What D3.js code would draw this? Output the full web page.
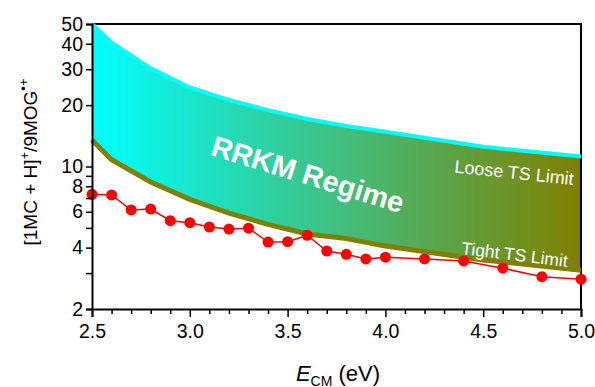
<!DOCTYPE html>
<html>
<head>
<meta charset="utf-8">
<script src="https://cdn.jsdelivr.net/npm/d3@7"></script>
<style>
  html, body { margin: 0; padding: 0; background: #fff; }
  svg { display: block; font-family: "Liberation Sans", Arial, sans-serif; }
</style>
</head>
<body>
<svg id="chart" width="595" height="387"></svg>
<script>
// boundary curves (RRKM limits)
const limitE     = [2.5, 2.6, 2.8, 3.0, 3.2, 3.4, 3.6, 3.8, 4.0, 4.5, 5.0];
const looseLimit = [50, 40.5, 30.3, 24.4, 21.2, 18.9, 17.1, 15.8, 14.8, 12.5, 11.2];
const tightLimit = [13.5, 10.8, 8.4, 6.9, 5.9, 5.2, 4.67, 4.43, 4.07, 3.48, 3.1];

// measured ratio
const expE     = [2.5, 2.6, 2.7, 2.8, 2.9, 3.0, 3.1, 3.2, 3.3, 3.4, 3.5, 3.6, 3.7, 3.8, 3.9, 4.0, 4.2, 4.4, 4.6, 4.8, 5.0];
const expRatio = [7.3, 7.25, 6.12, 6.18, 5.42, 5.30, 5.05, 4.93, 4.98, 4.26, 4.28, 4.60, 3.85, 3.71, 3.52, 3.59, 3.52, 3.44, 3.17, 2.88, 2.80];

const xTicks = [2.5, 3.0, 3.5, 4.0, 4.5, 5.0];
const yTicks = [2, 4, 6, 8, 10, 20, 30, 40, 50];
const yMinor = [3, 5, 7, 9];

const svg = d3.select('#chart');
const m = { left: 92, right: 581, top: 24, bottom: 309 };
const x = d3.scaleLinear().domain([2.5, 5.0]).range([m.left, m.right]);
const y = d3.scaleLog().domain([2, 50]).range([m.bottom, m.top]);

// gradient fill cyan -> olive
const defs = svg.append('defs');
const grad = defs.append('linearGradient').attr('id', 'band')
  .attr('gradientUnits', 'userSpaceOnUse')
  .attr('x1', m.left).attr('x2', m.right).attr('y1', 0).attr('y2', 0);
grad.append('stop').attr('offset', '0%').attr('stop-color', '#00ffff');
grad.append('stop').attr('offset', '100%').attr('stop-color', '#808000');

const band = limitE.map(function (e, i) { return { e: e, hi: looseLimit[i], lo: tightLimit[i] }; });
svg.append('path').datum(band)
  .attr('fill', 'url(#band)')
  .attr('d', d3.area().x(function (d) { return x(d.e); })
    .y0(function (d) { return y(d.lo); }).y1(function (d) { return y(d.hi); }));

// frame (top + right)
svg.append('path')
  .attr('d', 'M' + m.left + ',' + m.top + 'H' + m.right + 'V' + m.bottom)
  .attr('fill', 'none').attr('stroke', '#000').attr('stroke-width', 2);

// limit lines
svg.append('path').datum(band).attr('fill', 'none')
  .attr('stroke', '#00ffff').attr('stroke-width', 4)
  .attr('d', d3.line().x(function (d) { return x(d.e); }).y(function (d) { return y(d.hi); }));
svg.append('path').datum(band).attr('fill', 'none')
  .attr('stroke', '#808000').attr('stroke-width', 5)
  .attr('d', d3.line().x(function (d) { return x(d.e); }).y(function (d) { return y(d.lo); }));

// band labels
svg.append('text').attr('transform', 'translate(305,184) rotate(17)')
  .attr('text-anchor', 'middle').attr('fill', '#fff').attr('font-weight', 'bold')
  .attr('font-size', 29).text('RRKM Regime');
svg.append('text').attr('transform', 'translate(573,185) rotate(6)')
  .attr('text-anchor', 'end').attr('fill', '#fff').attr('font-size', 18).text('Loose TS Limit');
svg.append('text').attr('transform', 'translate(567,267) rotate(7)')
  .attr('text-anchor', 'end').attr('fill', '#fff').attr('font-size', 17.5).text('Tight TS Limit');

// experimental points
const pts = expE.map(function (e, i) { return { e: e, v: expRatio[i] }; });
svg.append('path').datum(pts).attr('fill', 'none')
  .attr('stroke', '#ff0000').attr('stroke-width', 1.5)
  .attr('d', d3.line().x(function (d) { return x(d.e); }).y(function (d) { return y(d.v); }));
svg.append('g').selectAll('circle').data(pts).join('circle')
  .attr('cx', function (d) { return x(d.e); }).attr('cy', function (d) { return y(d.v); })
  .attr('r', 5.5).attr('fill', '#ff0000');

// axes
const xAxis = svg.append('g').attr('transform', 'translate(0,' + m.bottom + ')')
  .call(d3.axisBottom(x).tickValues(xTicks).tickFormat(d3.format('.1f')).tickSize(8).tickPadding(3));
const xMinorVals = d3.range(25, 51).map(function (k) { return k / 10; })
  .filter(function (v) { return xTicks.indexOf(v) < 0; });
const xMinorG = svg.append('g').attr('transform', 'translate(0,' + m.bottom + ')')
  .call(d3.axisBottom(x).tickValues(xMinorVals).tickFormat('').tickSize(5));
xMinorG.select('.domain').remove();

const yAxis = svg.append('g').attr('transform', 'translate(' + m.left + ',0)')
  .call(d3.axisLeft(y).tickValues(yTicks).tickFormat(d3.format('d')).tickSize(6).tickPadding(3));
const yMinorG = svg.append('g').attr('transform', 'translate(' + m.left + ',0)')
  .call(d3.axisLeft(y).tickValues(yMinor).tickFormat('').tickSize(6));
yMinorG.select('.domain').remove();

svg.selectAll('.domain').attr('stroke', '#000').attr('stroke-width', 2);
svg.selectAll('.tick line').attr('stroke', '#000').attr('stroke-width', 1.5);
svg.selectAll('.tick text').attr('fill', '#000').attr('font-size', 19.5)
  .attr('font-family', '"Liberation Sans", Arial, sans-serif');
xAxis.selectAll('.tick text').attr('dy', '0.9em');

// axis titles
const xt = svg.append('text').attr('x', 338).attr('y', 381)
  .attr('text-anchor', 'middle').attr('font-size', 22).attr('fill', '#000');
xt.append('tspan').attr('font-style', 'italic').text('E');
xt.append('tspan').attr('font-size', 14).attr('dy', 5).text('CM');
xt.append('tspan').attr('dy', -5).text(' (eV)');

const yt = svg.append('text').attr('transform', 'translate(37,162) rotate(-90)')
  .attr('text-anchor', 'middle').attr('font-size', 19).attr('fill', '#000');
yt.append('tspan').text('[1MC + H]');
yt.append('tspan').attr('font-size', 13).attr('dy', -8).text('+');
yt.append('tspan').attr('dy', 8).text('/9MOG');
yt.append('tspan').attr('font-size', 13).attr('dy', -9).text('•+');
</script>
</body>
</html>
